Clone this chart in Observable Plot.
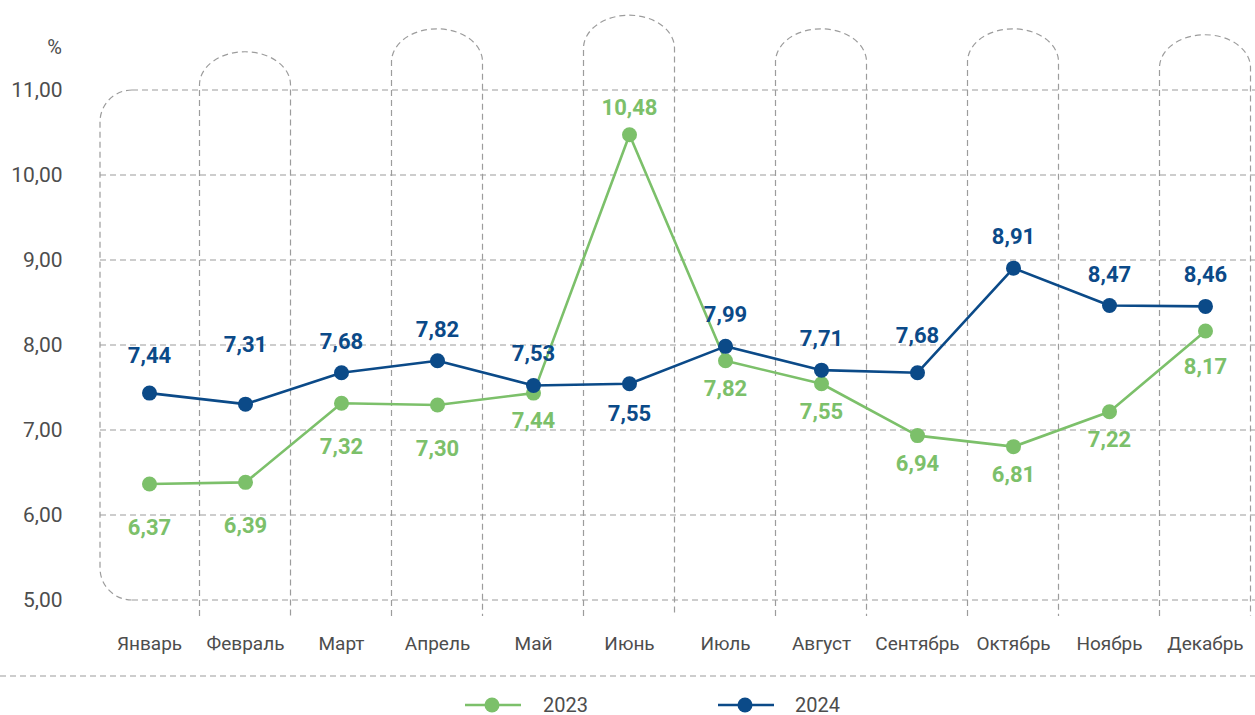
<!DOCTYPE html>
<html><head><meta charset="utf-8">
<script src="https://cdn.jsdelivr.net/npm/d3@7"></script>
<script src="https://cdn.jsdelivr.net/npm/@observablehq/plot@0.6"></script>
<style>
html,body{margin:0;padding:0;background:#fff;overflow:hidden;font-family:Roboto,"DejaVu Sans",sans-serif;}
#legend{position:relative;height:25px;width:1255px;}
.lg-item{position:absolute;top:0;height:30px;display:flex;align-items:center;}
.lg-text{position:absolute;top:0;height:30px;line-height:30px;font-size:20px;color:#4d4d4d;}
</style></head><body>
<div id="chart"></div>
<div id="legend"></div>
<script>
// ---- data ----
const months = ["Январь","Февраль","Март","Апрель","Май","Июнь","Июль","Август","Сентябрь","Октябрь","Ноябрь","Декабрь"];
const seriesNames = ["2023","2024"];
const values2023 = [6.37, 6.39, 7.32, 7.30, 7.44, 10.48, 7.82, 7.55, 6.94, 6.81, 7.22, 8.17];
const values2024 = [7.44, 7.31, 7.68, 7.82, 7.53, 7.55, 7.99, 7.71, 7.68, 8.91, 8.47, 8.46];
const yTicks = [5, 6, 7, 8, 9, 10, 11];
const yUnit = "%";

// ---- styling ----
const colors = {"2023": "#7cc06a", "2024": "#0b4a88"};
const gridColor = "#9c9c9c";
const textColor = "#4d4d4d";
const fmt = v => v.toFixed(2).replace(".", ",");

const rows = [];
seriesNames.forEach((s, si) => {
  const vals = si === 0 ? values2023 : values2024;
  months.forEach((m, i) => rows.push({month: m, series: s, value: vals[i]}));
});

// label placement groups (vertical offset from the point)
const labelGroups = [
  {series: "2023", dy: 44, months: ["Январь","Февраль","Март","Апрель"]},
  {series: "2023", dy: 28, months: ["Май","Июль","Август","Сентябрь","Октябрь","Ноябрь"]},
  {series: "2023", dy: 36, months: ["Декабрь"]},
  {series: "2023", dy: -27, months: ["Июнь"]},
  {series: "2024", dy: -31, months: ["Март","Апрель","Май","Июль","Август","Октябрь","Ноябрь","Декабрь"]},
  {series: "2024", dy: -37, months: ["Январь","Сентябрь"]},
  {series: "2024", dy: -59, months: ["Февраль"]},
  {series: "2024", dy: 30, months: ["Июнь"]}
];

// decorative dashed "pillars" (tops in value units)
const pillarTops = {"Февраль": 11.45, "Апрель": 11.72, "Июнь": 11.88, "Август": 11.72, "Октябрь": 11.72, "Декабрь": 11.65};

function decor(index, scales, values, dimensions) {
  const x = scales.x, y = scales.y;
  const W = dimensions.width;
  const L = x(months[0]) - 49;
  const y5 = y(5), y11 = y(11);
  const r = 32, hw = 45.5, ry = 33, ext = 16;
  const g = d3.create("svg:g");
  const dashed = sel => sel.attr("fill", "none").attr("stroke", gridColor)
    .attr("stroke-width", 1.2).attr("stroke-dasharray", "6,4");
  yTicks.forEach(v => {
    const x0 = (v === 5 || v === 11) ? L + r : L;
    g.append("line").attr("x1", x0).attr("x2", W).attr("y1", y(v)).attr("y2", y(v)).call(dashed);
  });
  g.append("path").attr("d",
    `M${L + r},${y11} A${r},${r} 0 0 0 ${L},${y11 + r} L${L},${y5 - r} A${r},${r} 0 0 0 ${L + r},${y5}`).call(dashed);
  Object.entries(pillarTops).forEach(([m, top]) => {
    const a = x(m) - hw, b = x(m) + hw, t = y(top);
    g.append("path").attr("d",
      `M${a},${y5 + ext} L${a},${t + ry} A${hw},${ry} 0 0 1 ${b},${t + ry} L${b},${y5 + ext}`).call(dashed);
  });
  g.append("line").attr("x1", 0).attr("x2", W).attr("y1", dimensions.height - 14).attr("y2", dimensions.height - 14).call(dashed);
  g.append("text").attr("x", 62).attr("y", y11 - 36).attr("text-anchor", "end")
    .attr("fill", textColor).attr("font-size", 20).text(yUnit);
  return g.node();
}

const marks = [decor];
seriesNames.forEach(s => {
  const data = rows.filter(d => d.series === s);
  marks.push(Plot.line(data, {x: "month", y: "value", stroke: colors[s], strokeWidth: 2.6}));
  marks.push(Plot.dot(data, {x: "month", y: "value", fill: colors[s], r: 7.5}));
});
labelGroups.forEach(gp => {
  marks.push(Plot.text(rows.filter(d => d.series === gp.series && gp.months.includes(d.month)), {
    x: "month", y: "value", text: d => fmt(d.value), dy: gp.dy,
    fill: colors[gp.series], fontSize: 22, fontWeight: "bold", style: "letter-spacing:1px"
  }));
});
marks.push(Plot.axisY({ticks: yTicks, tickFormat: fmt, tickSize: 0, tickPadding: 8, fontSize: 21, label: null}));
marks.push(Plot.axisX({tickSize: 0, tickPadding: 36, fontSize: 19, label: null}));

const chart = Plot.plot({
  width: 1255, height: 690,
  marginTop: 90, marginBottom: 90, marginLeft: 70, marginRight: 0,
  style: {fontFamily: "Roboto, 'DejaVu Sans', sans-serif", color: textColor, background: "#fff"},
  x: {type: "point", domain: months, range: [144, 1209], padding: 0},
  y: {domain: [5, 11]},
  marks
});
document.getElementById("chart").appendChild(chart);

// legend
const legend = document.getElementById("legend");
const legendPos = {"2023": [465, 543], "2024": [718, 795]};
seriesNames.forEach(s => {
  const [ix, tx] = legendPos[s];
  const item = document.createElement("div");
  item.className = "lg-item"; item.style.left = ix + "px";
  item.innerHTML = `<svg width="56" height="20"><line x1="0" x2="56" y1="10" y2="10" stroke="${colors[s]}" stroke-width="2.6"/><circle cx="27" cy="10" r="7.5" fill="${colors[s]}"/></svg>`;
  legend.appendChild(item);
  const t = document.createElement("div");
  t.className = "lg-text"; t.style.left = tx + "px"; t.textContent = s;
  legend.appendChild(t);
});
</script>
</body></html>
